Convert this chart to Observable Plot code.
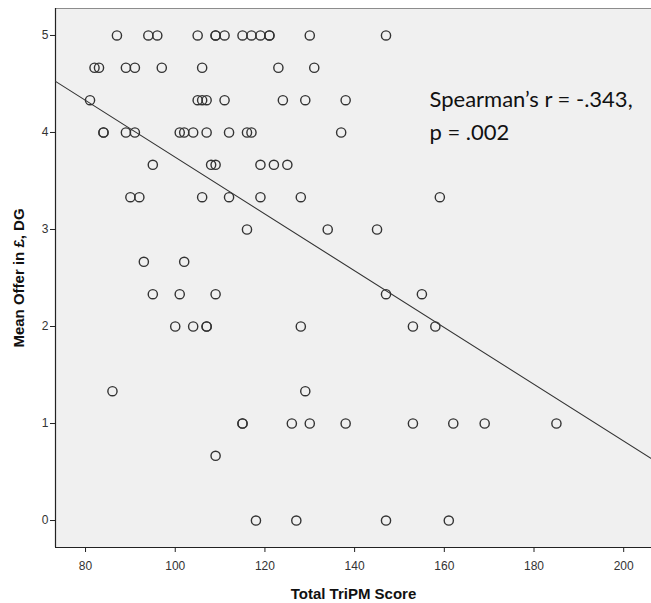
<!DOCTYPE html>
<html>
<head>
<meta charset="utf-8">
<script src="https://cdn.jsdelivr.net/npm/d3@7"></script>
<script src="https://cdn.jsdelivr.net/npm/@observablehq/plot@0.6"></script>
<style>
  html, body { margin: 0; padding: 0; background: #fff; }
  #chart svg { display: block; }
</style>
</head>
<body>
<div id="chart"></div>
<script>
// Total TriPM Score (x) and Mean Offer in £, DG (y), one entry per participant
const score = [
  87, 94, 96, 105, 109, 109, 111, 115, 117, 119, 121, 121, 130, 147,
  82, 83, 89, 91, 97, 106, 123, 131,
  81, 105, 106, 107, 111, 124, 129, 138,
  84, 84, 89, 91, 101, 102, 104, 107, 112, 116, 117, 137,
  95, 108, 109, 119, 122, 125,
  90, 92, 106, 112, 119, 128, 159,
  116, 134, 145,
  93, 102,
  95, 101, 109, 147, 155,
  100, 104, 107, 107, 128, 153, 158,
  86, 129,
  115, 115, 126, 130, 138, 153, 162, 169, 185,
  109,
  118, 127, 147, 161
];
const offer = [
  5, 5, 5, 5, 5, 5, 5, 5, 5, 5, 5, 5, 5, 5,
  4.667, 4.667, 4.667, 4.667, 4.667, 4.667, 4.667, 4.667,
  4.333, 4.333, 4.333, 4.333, 4.333, 4.333, 4.333, 4.333,
  4, 4, 4, 4, 4, 4, 4, 4, 4, 4, 4, 4,
  3.667, 3.667, 3.667, 3.667, 3.667, 3.667,
  3.333, 3.333, 3.333, 3.333, 3.333, 3.333, 3.333,
  3, 3, 3,
  2.667, 2.667,
  2.333, 2.333, 2.333, 2.333, 2.333,
  2, 2, 2, 2, 2, 2, 2,
  1.333, 1.333,
  1, 1, 1, 1, 1, 1, 1, 1, 1,
  0.667,
  0, 0, 0, 0
];
const xTicks = [80, 100, 120, 140, 160, 180, 200];
const yTicks = [0, 1, 2, 3, 4, 5];
const xDomain = [73.3, 206.2];
const yDomain = [-0.278, 5.278];
const fitIntercept = 6.672;
const fitSlope = -0.02927;
const annotation = ["Spearman\u2019s r = -.343,", "p = .002"];
const annotationAt = {score: 156.7, offer: 4.2};
const xLabel = "Total TriPM Score";
const yLabel = "Mean Offer in \u00a3, DG";

const points = score.map((s, i) => ({score: s, offer: offer[i]}));
const fit = xDomain.map(x => ({score: x, offer: fitIntercept + fitSlope * x}));

const chart = Plot.plot({
  width: 651,
  height: 603,
  marginLeft: 55,
  marginRight: 0,
  marginTop: 8,
  marginBottom: 56,
  style: {fontFamily: "'Liberation Sans', Arial, sans-serif", fontSize: "12px", color: "#222", background: "#fff"},
  x: {domain: xDomain},
  y: {domain: yDomain},
  marks: [
    Plot.frame({fill: "#f0f0f0", stroke: "none"}),
    Plot.ruleY([yDomain[1]], {stroke: "#8c8c8c", strokeWidth: 1.2}),
    Plot.axisX({ticks: xTicks, tickSize: 5, tickPadding: 9, stroke: "#222", fill: "#333", tickFormat: "d",
      label: xLabel, labelAnchor: "center", labelArrow: "none", labelOffset: 51}),
    Plot.axisY({ticks: yTicks, tickSize: 5, tickPadding: 2, stroke: "#222", fill: "#333", tickFormat: "d",
      label: yLabel, labelAnchor: "center", labelArrow: "none", labelOffset: 42}),
    Plot.ruleX([xDomain[0]], {stroke: "#222", strokeWidth: 1.2}),
    Plot.ruleY([yDomain[0]], {stroke: "#222", strokeWidth: 1.2}),
    Plot.line(fit, {x: "score", y: "offer", stroke: "#333", strokeWidth: 1.1}),
    Plot.dot(points, {x: "score", y: "offer", r: 4.6, stroke: "#333", strokeWidth: 1.4, fill: "none"}),
    Plot.text([annotation.join("\n")], {x: annotationAt.score, y: annotationAt.offer, text: d => d,
      textAnchor: "start", lineAnchor: "middle", lineHeight: 1.5, fontSize: 22,
      fill: "#111", fontFamily: "Lato, 'Open Sans', sans-serif"})
  ]
});
document.getElementById("chart").appendChild(chart);
// bold axis labels
d3.select(chart).selectAll("g[aria-label='x-axis label'] text, g[aria-label='y-axis label'] text")
  .style("font-weight", "bold").style("font-size", "15px").style("fill", "#111");
</script>
</body>
</html>
